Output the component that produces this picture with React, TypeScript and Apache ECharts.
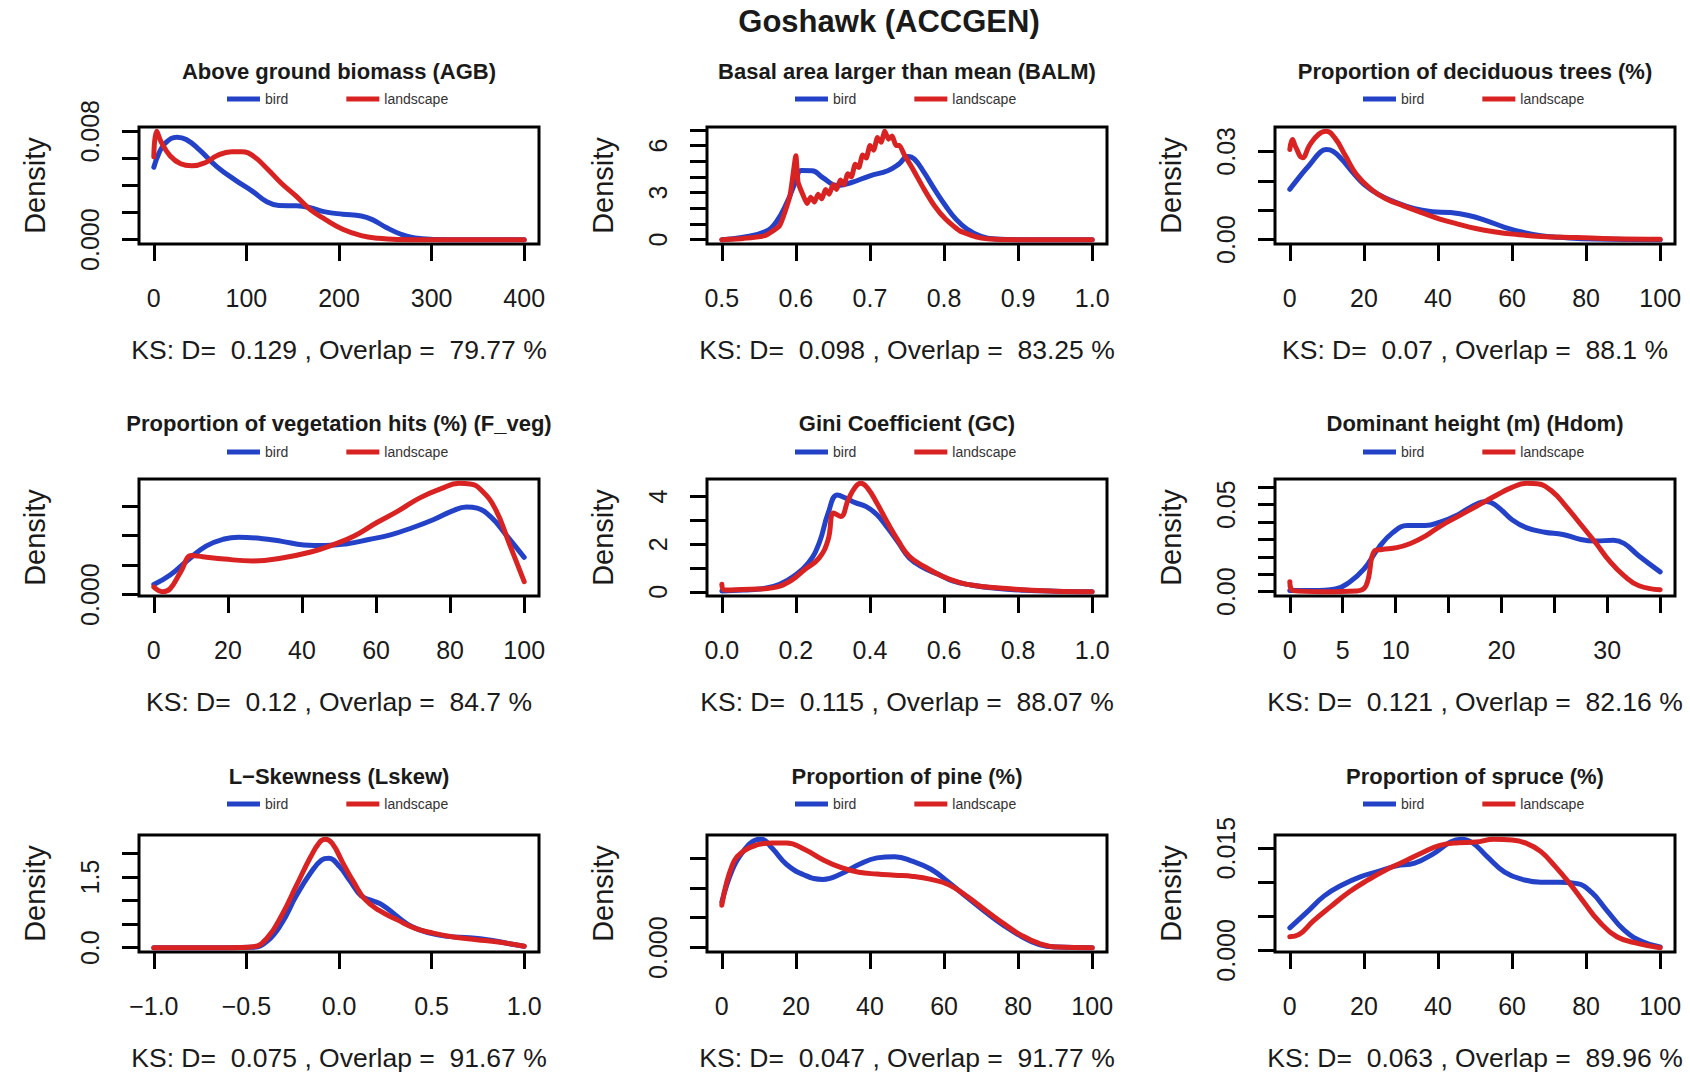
import React, { useEffect, useRef } from "react";
import * as echarts from "echarts";

type Pt = [number, number];

// ---------- text ----------
const mainTitle = "Goshawk (ACCGEN)";
const panelTitles = [
  "Above ground biomass (AGB)",
  "Basal area larger than mean (BALM)",
  "Proportion of deciduous trees (%)",
  "Proportion of vegetation hits (%) (F_veg)",
  "Gini Coefficient (GC)",
  "Dominant height (m) (Hdom)",
  "L\u2212Skewness (Lskew)",
  "Proportion of pine (%)",
  "Proportion of spruce (%)",
];
const ksD = ["0.129", "0.098", "0.07", "0.12", "0.115", "0.121", "0.075", "0.047", "0.063"];
const ksOverlap = ["79.77", "83.25", "88.1", "84.7", "88.07", "82.16", "91.67", "91.77", "89.96"];
const seriesNames = ["bird", "landscape"];

// ---------- x ranges, ticks and labels ----------
const xRanges: Pt[] = [[0, 400], [0.5, 1], [0, 100], [0, 100], [0, 1], [0, 35], [-1, 1], [0, 100], [0, 100]];
const xTicks: number[][] = [
  [0, 100, 200, 300, 400],
  [0.5, 0.6, 0.7, 0.8, 0.9, 1.0],
  [0, 20, 40, 60, 80, 100],
  [0, 20, 40, 60, 80, 100],
  [0, 0.2, 0.4, 0.6, 0.8, 1.0],
  [0, 5, 10, 15, 20, 25, 30, 35],
  [-1, -0.5, 0, 0.5, 1],
  [0, 20, 40, 60, 80, 100],
  [0, 20, 40, 60, 80, 100],
];
const xLabels: number[][] = [
  [0, 100, 200, 300, 400],
  [0.5, 0.6, 0.7, 0.8, 0.9, 1.0],
  [0, 20, 40, 60, 80, 100],
  [0, 20, 40, 60, 80, 100],
  [0, 0.2, 0.4, 0.6, 0.8, 1.0],
  [0, 5, 10, 20, 30],
  [-1, -0.5, 0, 0.5, 1],
  [0, 20, 40, 60, 80, 100],
  [0, 20, 40, 60, 80, 100],
];
const xDecimals = [0, 1, 0, 0, 1, 0, 1, 0, 0];

// ---------- y ticks and labels ----------
const yTicks: number[][] = [
  [0, 0.002, 0.004, 0.006, 0.008],
  [0, 1, 2, 3, 4, 5, 6, 7],
  [0, 0.01, 0.02, 0.03],
  [0, 0.005, 0.01, 0.015],
  [0, 1, 2, 3, 4],
  [0, 0.01, 0.02, 0.03, 0.04, 0.05, 0.06],
  [0, 0.5, 1, 1.5, 2],
  [0, 0.005, 0.01, 0.015],
  [0, 0.005, 0.01, 0.015],
];
const yLabels: number[][] = [
  [0, 0.008],
  [0, 3, 6],
  [0, 0.03],
  [0],
  [0, 2, 4],
  [0, 0.05],
  [0, 1.5],
  [0],
  [0, 0.015],
];
const yDecimals = [3, 0, 2, 3, 0, 2, 1, 3, 3];

// ---------- density curves ----------
const agbBird: Pt[] = [[0,0.00535],[5,0.0063],[12,0.0071],[25,0.00757],[35,0.0074],[49,0.00665],[68,0.0054],[88,0.0044],[107,0.00355],[122,0.0028],[135,0.00252],[154,0.0025],[169,0.00236],[185,0.00205],[204,0.00188],[224,0.00175],[236,0.00148],[251,0.0009],[267,0.0004],[282,0.00012],[302,0.00002],[330,0],[400,0]];
const agbLand: Pt[] = [[0,0.0061],[3,0.008],[8,0.0072],[17.5,0.0062],[29,0.0056],[41,0.00545],[56,0.0057],[68,0.0062],[84,0.0065],[95,0.0065],[107,0.0062],[123,0.0052],[138,0.00415],[154,0.0032],[169,0.00222],[185,0.0015],[204,0.00077],[224,0.0003],[243,0.0001],[263,0.00002],[300,0],[400,0]];

const balmBird: Pt[] = [[0.5,0],[0.529,0.15],[0.558,0.5],[0.573,1.1],[0.588,2.37],[0.6,3.75],[0.607,4.4],[0.622,4.39],[0.636,3.96],[0.656,3.45],[0.675,3.64],[0.7,4.07],[0.724,4.39],[0.739,4.81],[0.751,5.3],[0.76,5.13],[0.773,4.28],[0.787,3.22],[0.802,2.16],[0.816,1.31],[0.831,0.68],[0.85,0.21],[0.87,0.04],[0.9,0],[1.0,0]];
const balmLand: Pt[] = [[0.5,0],[0.529,0.08],[0.558,0.25],[0.578,0.89],[0.592,2.8],[0.6,5.34],[0.603,3.64],[0.61,2.8],[0.615,2.3],[0.62,2.7],[0.625,2.4],[0.63,2.9],[0.635,2.6],[0.64,3.2],[0.645,2.9],[0.65,3.5],[0.655,3.2],[0.66,3.8],[0.665,3.5],[0.67,4.2],[0.675,4.0],[0.68,4.8],[0.685,4.6],[0.69,5.4],[0.695,5.2],[0.7,6.0],[0.705,5.7],[0.71,6.5],[0.715,6.2],[0.72,6.9],[0.725,6.4],[0.73,6.6],[0.735,6.0],[0.74,6.0],[0.746,5.44],[0.758,4.49],[0.773,3.22],[0.787,2.16],[0.802,1.31],[0.821,0.57],[0.846,0.15],[0.87,0.02],[0.9,0],[1.0,0]];

const decidBird: Pt[] = [[0,0.0171],[2.4,0.021],[5.4,0.0255],[8.3,0.0298],[9.8,0.0306],[11.7,0.03],[14.1,0.0272],[17.1,0.0227],[20,0.0188],[23.9,0.0154],[28.8,0.0126],[33.7,0.0105],[38.5,0.0095],[43.4,0.0092],[48.3,0.0082],[53.2,0.0064],[58,0.0042],[62.9,0.0025],[67.8,0.0013],[72.7,0.0008],[82.4,0.0002],[100,0]];
const decidLand: Pt[] = [[0,0.0306],[0.7,0.034],[1.5,0.0317],[3.4,0.0278],[5.4,0.0322],[7.8,0.0358],[9.8,0.0368],[12.2,0.0345],[15.1,0.0283],[18,0.0221],[22,0.0171],[25.9,0.0139],[30.7,0.0115],[35.6,0.0092],[40.5,0.007],[45.4,0.0053],[50.2,0.0038],[55.1,0.0027],[61,0.0018],[67.8,0.0011],[77.6,0.0007],[87.3,0.0003],[100,0.0001]];

const fvegBird: Pt[] = [[0,0.0017],[4.4,0.0033],[9.3,0.0059],[14.1,0.0082],[19,0.0094],[22.9,0.0097],[28.8,0.0095],[34.6,0.009],[40.5,0.0084],[46.3,0.0083],[52.2,0.0086],[58,0.0093],[63.9,0.0101],[69.8,0.0113],[75.6,0.0127],[80.5,0.0141],[84.4,0.0148],[87.3,0.0146],[91.2,0.013],[95.1,0.0101],[100,0.0063]];
const fvegLand: Pt[] = [[0,0.0013],[2.4,0.0005],[4.4,0.001],[7.3,0.0039],[10.2,0.0066],[13.2,0.0064],[19,0.006],[26.8,0.0057],[34.6,0.0062],[42.4,0.0072],[48.3,0.0084],[54.1,0.0099],[60,0.0121],[65.9,0.0141],[71.7,0.0163],[77.6,0.0179],[82.4,0.0188],[85.4,0.0187],[88.3,0.0177],[92.2,0.0145],[96.1,0.0084],[100,0.0022]];

const gcBird: Pt[] = [[0,0.04],[0.058,0.08],[0.117,0.15],[0.156,0.32],[0.195,0.67],[0.234,1.22],[0.263,2.06],[0.287,3.31],[0.312,4.07],[0.336,3.93],[0.36,3.75],[0.39,3.58],[0.419,3.24],[0.448,2.68],[0.477,2.06],[0.506,1.43],[0.545,1.01],[0.584,0.74],[0.623,0.46],[0.672,0.29],[0.74,0.15],[0.818,0.07],[0.9,0.03],[1,0.01]];
const gcLand: Pt[] = [[0,0.32],[0.008,0.08],[0.078,0.11],[0.136,0.17],[0.185,0.46],[0.224,0.94],[0.263,1.43],[0.287,2.19],[0.302,3.31],[0.321,3.17],[0.341,3.86],[0.36,4.4],[0.375,4.56],[0.394,4.35],[0.419,3.72],[0.448,2.89],[0.477,2.13],[0.506,1.5],[0.545,1.08],[0.594,0.67],[0.643,0.39],[0.691,0.25],[0.759,0.15],[0.837,0.07],[0.9,0.03],[1,0.01]];

const hdomBird: Pt[] = [[0,0.0006],[2.2,0.0006],[4.3,0.0015],[5.6,0.0053],[7,0.0129],[8.4,0.0253],[9.7,0.0338],[11.1,0.038],[12.8,0.038],[14.2,0.04],[15.9,0.0443],[17.2,0.049],[18.6,0.0519],[19.6,0.049],[21,0.0414],[22.4,0.0367],[24.1,0.0342],[25.8,0.0329],[27.5,0.03],[28.9,0.0291],[30.6,0.0296],[31.6,0.0277],[33,0.0205],[35,0.0114]];
const hdomLand: Pt[] = [[0,0.0057],[0.3,0.0006],[3.2,0],[6.3,0.0004],[7.2,0.0034],[8,0.0234],[8.7,0.0243],[10.1,0.0253],[11.4,0.0277],[12.8,0.0319],[14.2,0.0376],[15.9,0.0433],[17.6,0.049],[19.3,0.0547],[21,0.06],[22.4,0.0623],[23.4,0.062],[24.8,0.0576],[26.1,0.049],[27.5,0.0386],[28.9,0.0281],[30.2,0.0177],[31.6,0.0091],[33,0.0034],[35,0.0011]];

const lskewBird: Pt[] = [[-1,0],[-0.6,0],[-0.464,0.01],[-0.387,0.14],[-0.309,0.52],[-0.231,1.1],[-0.153,1.59],[-0.094,1.86],[-0.056,1.9],[0.003,1.72],[0.061,1.41],[0.12,1.1],[0.178,1.0],[0.237,0.9],[0.315,0.66],[0.392,0.45],[0.49,0.31],[0.587,0.24],[0.704,0.21],[0.801,0.17],[0.899,0.1],[1,0.03]];
const lskewLand: Pt[] = [[-1,0],[-0.6,0],[-0.464,0.02],[-0.387,0.21],[-0.309,0.69],[-0.231,1.31],[-0.153,1.93],[-0.104,2.24],[-0.075,2.3],[-0.036,2.21],[0.022,1.79],[0.081,1.38],[0.139,1.03],[0.217,0.79],[0.315,0.59],[0.412,0.41],[0.509,0.31],[0.626,0.22],[0.743,0.17],[0.86,0.12],[1,0.03]];

const pineBird: Pt[] = [[0,0.0076],[2.9,0.0131],[5.8,0.0161],[8.8,0.0179],[10.7,0.0181],[13.6,0.0166],[17.5,0.0139],[22.4,0.0121],[27.3,0.0114],[32.1,0.0123],[37,0.0139],[41.9,0.015],[46.7,0.0152],[51.6,0.0144],[56.5,0.0131],[61.3,0.0109],[66.2,0.0084],[71.1,0.006],[75.9,0.0038],[80.8,0.0019],[85.7,0.0005],[90.6,0.0001],[100,0]];
const pineLand: Pt[] = [[0,0.0071],[2.9,0.0139],[5.8,0.0161],[9.7,0.0172],[13.6,0.0175],[17.5,0.0175],[22.4,0.0164],[27.3,0.0147],[32.1,0.0134],[37,0.0126],[41.9,0.0123],[46.7,0.0121],[51.6,0.0119],[56.5,0.0114],[61.3,0.0105],[66.2,0.0086],[71.1,0.0063],[75.9,0.0041],[80.8,0.0021],[85.7,0.0007],[90.6,0.0001],[100,0]];

const spruceBird: Pt[] = [[0,0.0033],[4.4,0.0055],[9.3,0.008],[14.1,0.0096],[19,0.0108],[23.9,0.0116],[28.8,0.0124],[33.7,0.0128],[38.5,0.0141],[43.4,0.0159],[46.3,0.0163],[49.3,0.0158],[53.2,0.0138],[58,0.0115],[62.9,0.0104],[67.8,0.01],[72.7,0.01],[77.6,0.0098],[81.5,0.0085],[85.4,0.006],[90.2,0.003],[95.1,0.0013],[100,0.0005]];
const spruceLand: Pt[] = [[0,0.002],[2.4,0.0023],[6.3,0.0043],[11.2,0.0065],[16.1,0.0086],[21,0.0103],[25.9,0.0118],[30.7,0.013],[35.6,0.0143],[40.5,0.0154],[45.4,0.0158],[50.2,0.0159],[55.1,0.0163],[60,0.0162],[63.9,0.0157],[67.8,0.0145],[71.7,0.0123],[75.6,0.0098],[79.5,0.007],[83.4,0.0043],[88.3,0.002],[94.1,0.001],[100,0.0004]];

const birdSeries: Pt[][] = [agbBird, balmBird, decidBird, fvegBird, gcBird, hdomBird, lskewBird, pineBird, spruceBird];
const landSeries: Pt[][] = [agbLand, balmLand, decidLand, fvegLand, gcLand, hdomLand, lskewLand, pineLand, spruceLand];

// ---------- layout & style ----------
const W = 1690;
const H = 1074;
const COL_LEFT = [139, 707, 1275];
const ROW_TOP = [127, 479, 835];
const BOX_W = 400;
const BOX_H = 117;
const TITLE_Y = [72, 424, 777];
const LEGEND_Y = [100, 453, 805];
const BLUE = "#2342c8";
const RED = "#d92222";
const FONT = "'Liberation Sans', Arial, Helvetica, sans-serif";
const TXT = "#1a1a1a";

const fmt = (dec: number) => (v: number) => v.toFixed(dec).replace("-", "\u2212");

function buildOption() {
  const grids: any[] = [];
  const xAxes: any[] = [];
  const yAxes: any[] = [];
  const series: any[] = [];
  const legends: any[] = [];
  const titles: any[] = [
    {
      text: mainTitle,
      left: 889,
      top: 6,
      textAlign: "center",
      padding: 0,
      textStyle: { fontSize: 31, fontWeight: "bold", color: TXT, fontFamily: FONT },
    },
  ];

  for (let i = 0; i < 9; i++) {
    const r = Math.floor(i / 3);
    const c = i % 3;
    const left = COL_LEFT[c];
    const top = ROW_TOP[r];
    const [xa, xb] = xRanges[i];
    const xpad = (xb - xa) * 0.04;
    const allY = birdSeries[i].concat(landSeries[i]).map((p) => p[1]);
    const ya = Math.min(...allY);
    const yb = Math.max(...allY);
    const ypad = (yb - ya) * 0.04;

    grids.push({
      left,
      top,
      width: BOX_W,
      height: BOX_H,
      show: true,
      borderColor: "#000",
      borderWidth: 3,
      backgroundColor: "transparent",
    });

    xAxes.push({
      gridIndex: i,
      type: "value",
      position: "bottom",
      min: xa - xpad,
      max: xb + xpad,
      axisLine: { show: false, onZero: false },
      splitLine: { show: false },
      axisTick: { show: true, customValues: xTicks[i], length: 17, lineStyle: { color: "#000", width: 3 } },
      axisLabel: {
        customValues: xLabels[i],
        formatter: fmt(xDecimals[i]),
        fontSize: 25,
        margin: 41,
        color: TXT,
        fontFamily: FONT,
      },
      name: "KS: D=  " + ksD[i] + " , Overlap =  " + ksOverlap[i] + " %",
      nameLocation: "middle",
      nameGap: 92,
      nameTextStyle: { fontSize: 26.5, color: TXT, fontFamily: FONT },
    });

    yAxes.push({
      gridIndex: i,
      type: "value",
      position: "left",
      min: ya - ypad,
      max: yb + ypad,
      axisLine: { show: false, onZero: false },
      splitLine: { show: false },
      axisTick: { show: true, customValues: yTicks[i], length: 17, lineStyle: { color: "#000", width: 3 } },
      axisLabel: {
        customValues: yLabels[i],
        formatter: fmt(yDecimals[i]),
        rotate: 90,
        fontSize: 25,
        margin: 37,
        color: TXT,
        fontFamily: FONT,
      },
      name: "Density",
      nameLocation: "middle",
      nameRotate: 90,
      nameGap: 90,
      nameTextStyle: { fontSize: 29, color: TXT, fontFamily: FONT },
    });

    series.push({
      name: seriesNames[0],
      type: "line",
      xAxisIndex: i,
      yAxisIndex: i,
      data: birdSeries[i],
      showSymbol: false,
      smooth: 0.45,
      color: BLUE,
      itemStyle: { color: BLUE },
      lineStyle: { color: BLUE, width: 5, cap: "round", join: "round" },
      z: 2,
    });
    series.push({
      name: seriesNames[1],
      type: "line",
      xAxisIndex: i,
      yAxisIndex: i,
      data: landSeries[i],
      showSymbol: false,
      smooth: i === 1 ? 0.15 : 0.45,
      color: RED,
      itemStyle: { color: RED },
      lineStyle: { color: RED, width: 5, cap: "round", join: "round" },
      z: 3,
    });

    legends.push({
      data: seriesNames,
      left: left + 88,
      top: LEGEND_Y[r] - 8,
      orient: "horizontal",
      icon: "rect",
      itemWidth: 33,
      itemHeight: 5,
      itemGap: 58,
      padding: 0,
      selectedMode: false,
      textStyle: { fontSize: 14, color: "#333", fontFamily: FONT },
    });

    titles.push({
      text: panelTitles[i],
      left: left + BOX_W / 2,
      top: TITLE_Y[r] - 12,
      textAlign: "center",
      padding: 0,
      textStyle: { fontSize: 22, fontWeight: "bold", color: TXT, fontFamily: FONT },
    });
  }

  return {
    animation: false,
    backgroundColor: "#ffffff",
    textStyle: { fontFamily: FONT },
    title: titles,
    legend: legends,
    grid: grids,
    xAxis: xAxes,
    yAxis: yAxes,
    series,
  };
}

export default function App() {
  const ref = useRef<HTMLDivElement>(null);
  useEffect(() => {
    if (!ref.current) return;
    const chart = echarts.init(ref.current, null, { renderer: "svg" });
    chart.setOption(buildOption() as any);
    return () => chart.dispose();
  }, []);
  return (
    <div
      ref={ref}
      style={{ position: "fixed", left: 0, top: 0, width: W, height: H, background: "#fff" }}
    />
  );
}
